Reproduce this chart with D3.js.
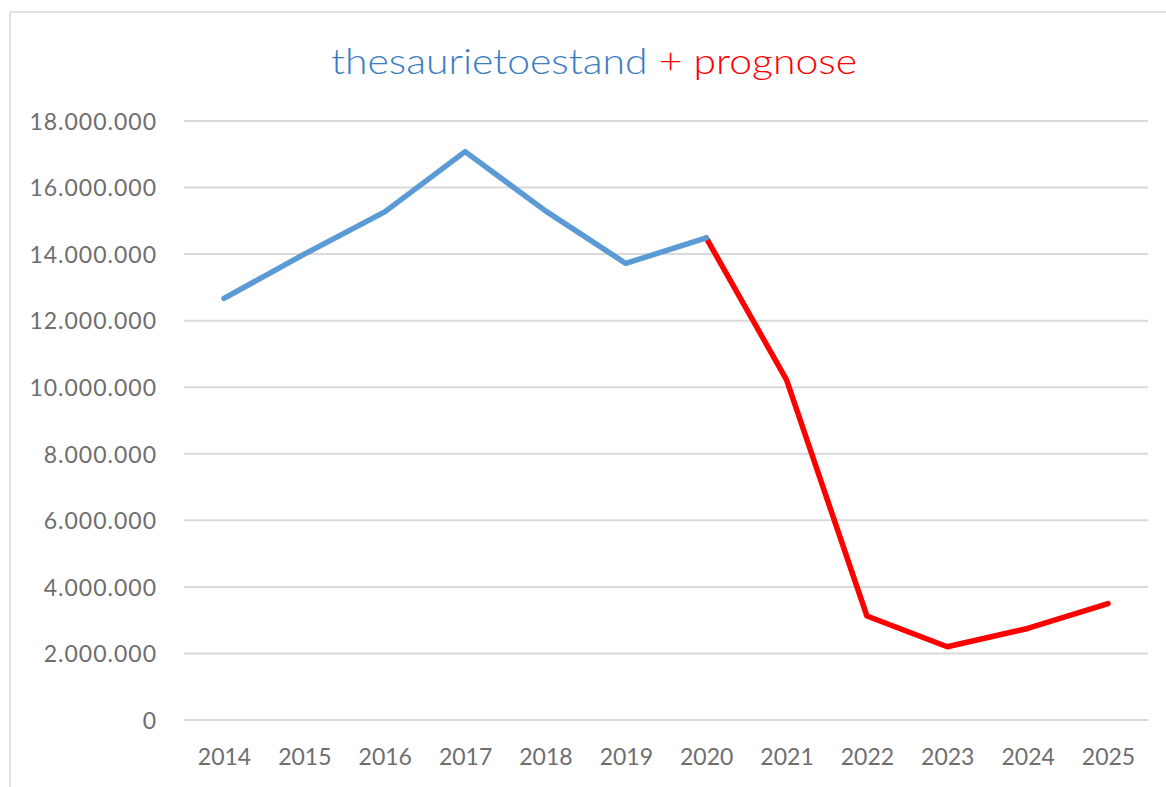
<!DOCTYPE html>
<html><head><meta charset="utf-8">
<script src="https://cdn.jsdelivr.net/npm/d3@7"></script>
<style>body{margin:0;background:#fff;}svg{display:block;}</style>
</head><body>
<svg id="c" width="1166" height="787"></svg>
<script>
const years = ["2014","2015","2016","2017","2018","2019","2020","2021","2022","2023","2024","2025"];
const actualYears = ["2014","2015","2016","2017","2018","2019","2020"];
const actualValues = [12670000, 14000000, 15270000, 17080000, 15300000, 13720000, 14490000];
const forecastYears = ["2020","2021","2022","2023","2024","2025"];
const forecastValues = [14490000, 10220000, 3125000, 2200000, 2750000, 3500000];
const yTicks = [0, 2000000, 4000000, 6000000, 8000000, 10000000, 12000000, 14000000, 16000000, 18000000];

const svg = d3.select("#c");
const font = "Lato, 'Open Sans', sans-serif";

// outer frame
svg.append("rect").attr("x",10).attr("y",12).attr("width",1170).attr("height",800)
  .attr("fill","none").attr("stroke","#d9d9d9").attr("stroke-width",1.5);

const x = d3.scalePoint().domain(years).range([224, 1108]);
const y = d3.scaleLinear().domain([0, 18000000]).range([720, 121]);
const fmt = v => d3.format(",")(v).replace(/,/g, ".");

// gridlines
svg.append("g").selectAll("line").data(yTicks).join("line")
  .attr("x1",184).attr("x2",1148)
  .attr("y1",d=>y(d)).attr("y2",d=>y(d))
  .attr("stroke","#d9d9d9").attr("stroke-width",2);

// y axis labels
const yAxis = d3.axisLeft(y).tickValues(yTicks).tickFormat(fmt).tickSize(0).tickPadding(0);
const gy = svg.append("g").attr("transform","translate(157,0)").call(yAxis);
gy.select(".domain").remove();
gy.selectAll("text").attr("font-family",font).attr("font-size",23).attr("fill","#6e6e6e")
  .attr("letter-spacing","1px").attr("dy","0.36em");

// x axis labels
const xAxis = d3.axisBottom(x).tickSize(0).tickPadding(0);
const gx = svg.append("g").attr("transform","translate(0,757)").call(xAxis);
gx.select(".domain").remove();
gx.selectAll("text").attr("font-family",font).attr("font-size",23).attr("fill","#6e6e6e")
  .attr("y",0).attr("dy","0.36em");

const line = d3.line().x(d=>x(d[0])).y(d=>y(d[1]));
svg.append("path").datum(d3.zip(forecastYears, forecastValues)).attr("d",line)
  .attr("fill","none").attr("stroke","#ff0000").attr("stroke-width",5.5)
  .attr("stroke-linejoin","round").attr("stroke-linecap","round");
svg.append("path").datum(d3.zip(actualYears, actualValues)).attr("d",line)
  .attr("fill","none").attr("stroke","#5b9bd5").attr("stroke-width",5.5)
  .attr("stroke-linejoin","round").attr("stroke-linecap","round");

// title
const t = svg.append("text").attr("x",594).attr("y",74).attr("text-anchor","middle")
  .attr("font-family",font).attr("font-weight",300).attr("font-size",35)
  .attr("textLength",526).attr("lengthAdjust","spacingAndGlyphs");
t.append("tspan").attr("fill","#3a7dc2").text("thesaurietoestand");
t.append("tspan").attr("fill","#ff0000").text(" + prognose");
</script>
</body></html>
